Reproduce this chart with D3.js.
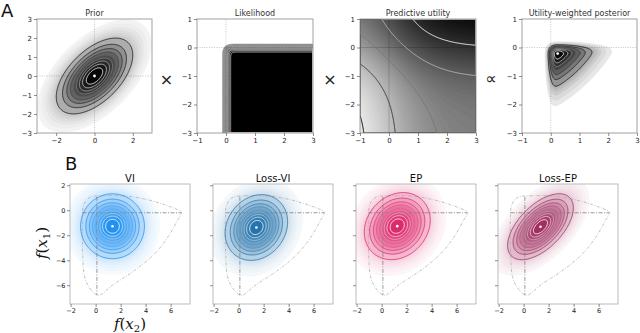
<!DOCTYPE html>
<html><head><meta charset="utf-8">
<script src="https://cdn.jsdelivr.net/npm/d3@7"></script>
<style>body{margin:0;background:#fff} svg{display:block} text{font-family:"DejaVu Sans",sans-serif}</style>
</head><body>
<svg id="c" width="640" height="333"></svg>
<script>
// ================= DATA =================
const topTitles = ["Prior", "Likelihood", "Predictive utility", "Utility-weighted posterior"];
const topXDomains = [[-3, 3], [-1, 3], [-1, 3], [-1, 3]];
const topYDomains = [[-3, 3], [-3, 1], [-3, 1], [-3, 1]];
const topXTicks = [[-2, 0, 2], [-1, 0, 1, 2, 3], [-1, 0, 1, 2, 3], [-1, 0, 1, 2, 3]];
const topYTicks = [[-3, -2, -1, 0, 1, 2, 3], [-3, -2, -1, 0, 1], [-3, -2, -1, 0, 1], [-3, -2, -1, 0, 1]];
const operators = ["\u00D7", "\u00D7", "\u221D"];

const priorMean = [0, 0];
const priorStd = [0.93, 0.93];
const priorRho = 0.55;
const likCenter = [0.02, -0.02];
const likScale = 0.11;
const utilSlope = [1.3, 1.3];
const utilShift = [0.0, -0.2];
const utilLevels = [0.27, 0.595, 0.92, 1.245, 1.57];
const utilWeightPower = 0.3;

const densityLevels = [0.1, 0.2, 0.3, 0.4, 0.5, 0.6, 0.7, 0.8, 0.9];
const haloLevels = [0.006, 0.012, 0.022, 0.035, 0.05, 0.07];
const postLevels = [0.17, 0.29, 0.41, 0.53, 0.65, 0.77, 0.89];
const postHaloLevels = [0.02, 0.04, 0.07, 0.1, 0.13];

const bottomTitles = ["VI", "Loss-VI", "EP", "Loss-EP"];
const approxMeans = [[1.35, -1.28], [1.42, -1.38], [1.25, -1.27], [1.35, -1.32]];
const approxStds = [[1.19, 1.21], [1.165, 1.225], [1.23, 1.25], [1.225, 1.23]];
const approxRhos = [0.0, 0.17, 0.18, 0.57];
const approxColors = ["#1c8ef0", "#1f70aa", "#dc2368", "#9e2a5c"];
const bottomXDomain = [-2.05, 7.55];
const bottomYDomain = [-7.5, 2.1];
const bottomXTicks = [-2, 0, 2, 4, 6];
const bottomYTicks = [2, 0, -2, -4, -6];
const truePostOutline = [[-0.35, 1.08], [0.5, 1.15], [1.5, 1.17], [2.5, 1.13], [3.5, 0.98], [4.5, 0.75],
  [5.5, 0.45], [6.3, 0.15], [6.85, -0.15], [6.5, -0.9], [5.7, -2.27], [4.6, -3.6], [3.0, -4.9],
  [1.4, -5.95], [0.2, -6.8], [-0.56, -6.1], [-0.91, -5.2], [-1.02, -3.87], [-1.07, -2.0],
  [-1.05, -0.5], [-1.0, 0.27], [-0.75, 0.8]];
const truePostCrossH = [[-1.05, -0.2], [6.85, -0.2]];
const truePostCrossV = [[0.1, 1.07], [0.1, -6.8]];

// ================= HELPERS =================
const svg = d3.select("#c");
const defs = svg.append("defs");
const fmt = d => d < 0 ? "\u2212" + (-d) : String(d);

function Phi(z) {
  const x = Math.abs(z) / Math.SQRT2;
  const t = 1 / (1 + 0.3275911 * x);
  const e = 1 - (((((1.061405429 * t - 1.453152027) * t) + 1.421413741) * t - 0.284496736) * t + 0.254829592) * t * Math.exp(-x * x);
  return z >= 0 ? 0.5 * (1 + e) : 0.5 * (1 - e);
}
function gauss(x, y, m, s, r) {
  const dx = (x - m[0]) / s[0], dy = (y - m[1]) / s[1];
  const q = (dx * dx - 2 * r * dx * dy + dy * dy) / (1 - r * r);
  return Math.exp(-q / 2);
}
const logistic = z => 1 / (1 + Math.exp(-z));
const lik = (x, y) => Phi((x - likCenter[0]) / likScale) * Phi(-(y - likCenter[1]) / likScale);
const util = (x, y) => logistic(utilSlope[0] * (x - utilShift[0])) + logistic(utilSlope[1] * (y - utilShift[1]));
const prior = (x, y) => gauss(x, y, priorMean, priorStd, priorRho);

function makeGrid(fn, xd, yd, n, normalize) {
  const values = new Float64Array(n * n);
  let max = -Infinity, min = Infinity, amax = 0;
  for (let j = 0; j < n; j++) for (let i = 0; i < n; i++) {
    const x = xd[0] + (i + 0.5) * (xd[1] - xd[0]) / n;
    const y = yd[1] - (j + 0.5) * (yd[1] - yd[0]) / n;
    const v = fn(x, y);
    values[j * n + i] = v;
    if (v > max) { max = v; amax = j * n + i; }
    if (v < min) min = v;
  }
  if (normalize) for (let k = 0; k < values.length; k++) values[k] /= max;
  const ai = amax % n, aj = Math.floor(amax / n);
  const argmax = [xd[0] + (ai + 0.5) * (xd[1] - xd[0]) / n, yd[1] - (aj + 0.5) * (yd[1] - yd[0]) / n];
  return {values, n, xd, yd, max, min, argmax};
}
function gridPath(grid, xs, ys) {
  const [x0, x1] = grid.xd, [y0, y1] = grid.yd, n = grid.n;
  return d3.geoPath(d3.geoTransform({
    point(px, py) { this.stream.point(xs(x0 + px * (x1 - x0) / n), ys(y1 - py * (y1 - y0) / n)); }
  }));
}
function fills(g, grid, path, thresholds, colorFn) {
  const cs = d3.contours().size([grid.n, grid.n]).thresholds(thresholds)(grid.values);
  g.append("g").selectAll("path").data(cs).join("path")
    .attr("d", path).attr("fill", (d, i) => colorFn(d.value, i)).attr("stroke", "none");
}
function lines(g, grid, path, thresholds, colorFn, w) {
  const cs = d3.contours().size([grid.n, grid.n]).thresholds(thresholds)(grid.values);
  g.append("g").selectAll("path").data(cs).join("path")
    .attr("d", path).attr("fill", "none").attr("stroke", (d, i) => colorFn(d.value, i))
    .attr("stroke-width", w || 0.9).attr("stroke-linejoin", "round");
}
let clipId = 0;
function panel(x, y, w, h, xd, yd) {
  const xs = d3.scaleLinear().domain(xd).range([x, x + w]);
  const ys = d3.scaleLinear().domain(yd).range([y + h, y]);
  const id = "clip" + (clipId++);
  defs.append("clipPath").attr("id", id).append("rect").attr("x", x).attr("y", y).attr("width", w).attr("height", h);
  const g = svg.append("g").attr("clip-path", `url(#${id})`);
  return {xs, ys, g, x, y, w, h};
}
function frameAndAxes(p, xt, yt, opts) {
  svg.append("rect").attr("x", p.x).attr("y", p.y).attr("width", p.w).attr("height", p.h)
    .attr("fill", "none").attr("stroke", opts.frame).attr("stroke-width", 0.8);
  const ax = svg.append("g").attr("transform", `translate(0,${p.y + p.h})`)
    .call(d3.axisBottom(p.xs).tickValues(xt).tickSize(3).tickPadding(opts.pad).tickFormat(fmt));
  const ay = svg.append("g").attr("transform", `translate(${p.x},0)`)
    .call(d3.axisLeft(p.ys).tickValues(yt).tickSize(3).tickPadding(opts.pad).tickFormat(opts.yLabels ? fmt : () => ""));
  [ax, ay].forEach(a => {
    a.select(".domain").remove();
    a.selectAll(".tick line").attr("stroke", "#444").attr("stroke-width", 0.6);
    a.selectAll(".tick text").attr("fill", "#222").style("font-size", opts.fs + "px").style("font-family", "DejaVu Sans");
  });
}
function crosshair(p, color, opacity, dash) {
  const g = p.g.append("g").style("mix-blend-mode", "multiply");
  g.append("line").attr("x1", p.xs(0)).attr("x2", p.xs(0)).attr("y1", p.y).attr("y2", p.y + p.h);
  g.append("line").attr("y1", p.ys(0)).attr("y2", p.ys(0)).attr("x1", p.x).attr("x2", p.x + p.w);
  g.selectAll("line").attr("stroke", color).attr("stroke-opacity", opacity).attr("stroke-width", 0.7).attr("stroke-dasharray", dash);
}
function gaussStyle(g, grid, path, strong, levels, halo) {
  levels = levels || densityLevels; halo = halo || haloLevels;
  const step = levels[1] - levels[0];
  const fc = t => d3.interpolateRgb("#ffffff", strong)(Math.pow(Math.min(1, t), 0.6));
  fills(g, grid, path, halo, v => fc(v));
  fills(g, grid, path, levels, v => fc(v + step / 2));
}
function gaussLines(g, grid, path, lineStrong, levels) {
  levels = levels || densityLevels;
  lines(g, grid, path, levels,
    (v, i) => d3.interpolateRgb(lineStrong, "#ffffff")(Math.pow(i / (levels.length - 1), 1.6)), 0.8);
}

// ================= TOP ROW =================
const topBoxes = [[37, 19, 115, 114], [197, 19, 116, 114], [360, 19, 116, 114], [522, 19, 115, 114]];
const N = 150;
topBoxes.forEach((b, k) => {
  const p = panel(b[0], b[1], b[2], b[3], topXDomains[k], topYDomains[k]);
  if (k === 0) {
    const grid = makeGrid(prior, topXDomains[0], topYDomains[0], N, true);
    const path = gridPath(grid, p.xs, p.ys);
    gaussStyle(p.g, grid, path, "#000000");
    crosshair(p, "#bbbbbb", 1, "1.2,1.2");
    gaussLines(p.g, grid, path, "#111111");
    p.g.append("circle").attr("cx", p.xs(priorMean[0])).attr("cy", p.ys(priorMean[1])).attr("r", 1.4).attr("fill", "#fff");
  } else if (k === 1) {
    const grid = makeGrid(lik, topXDomains[1], topYDomains[1], N, false);
    const path = gridPath(grid, p.xs, p.ys);
    fills(p.g, grid, path, densityLevels, v => d3.interpolateRgb("#8a8a8a", "#000000")((v - 0.1) / 0.8));
    lines(p.g, grid, path, densityLevels, (v, i) => d3.interpolateRgb("#9a9a9a", "#f2f2f2")(i / 8), 0.6);
    crosshair(p, "#bbbbbb", 1, "1.2,1.2");
  } else if (k === 2) {
    const grid = makeGrid(util, topXDomains[2], topYDomains[2], N, false);
    const path = gridPath(grid, p.xs, p.ys);
    const nb = 60, th = d3.range(nb + 1).map(i => grid.min + (grid.max - grid.min) * i / nb);
    fills(p.g, grid, path, th, v => d3.interpolateRgb("#e8e8e8", "#0a0a0a")((v - grid.min) / (grid.max - grid.min)));
    crosshair(p, "#333333", 0.3, "none");
    lines(p.g, grid, path, utilLevels, (v, i) => d3.interpolateRgb("#000000", "#eeeeee")(i / (utilLevels.length - 1)), 1.0);
  } else {
    const post = (x, y) => prior(x, y) * lik(x, y) * Math.pow(util(x, y), utilWeightPower);
    const grid = makeGrid(post, topXDomains[3], topYDomains[3], N, true);
    const path = gridPath(grid, p.xs, p.ys);
    gaussStyle(p.g, grid, path, "#000000", postLevels, postHaloLevels);
    crosshair(p, "#bbbbbb", 1, "1.2,1.2");
    gaussLines(p.g, grid, path, "#111111", postLevels);
    p.g.append("circle").attr("cx", p.xs(grid.argmax[0])).attr("cy", p.ys(grid.argmax[1])).attr("r", 1.4).attr("fill", "#fff");
  }
  frameAndAxes(p, topXTicks[k], topYTicks[k], {frame: "#8a8a8a", pad: 2, fs: 7, yLabels: true});
  svg.append("text").attr("x", b[0] + b[2] / 2).attr("y", 15.5).attr("text-anchor", "middle")
    .style("font-size", "8px").attr("fill", "#333").text(topTitles[k]);
});
const opPos = [[166.5, 79], [330, 79], [491, 78]];
operators.forEach((o, i) => {
  svg.append("text").attr("x", opPos[i][0]).attr("y", opPos[i][1]).attr("text-anchor", "middle")
    .attr("dominant-baseline", "central").style("font-family", "'DejaVu Sans'").style("font-size", "16px")
    .attr("fill", "#222").text(o);
});
svg.append("text").attr("x", 1).attr("y", 17).style("font-size", "18px").attr("fill", "#111").text("A");
svg.append("text").attr("x", 65).attr("y", 170).style("font-size", "18px").attr("fill", "#111").text("B");

// ================= BOTTOM ROW =================
const botBoxes = [[70, 184, 120, 120], [213, 184, 120, 120], [356, 184, 120, 120], [498, 184, 120, 120]];
botBoxes.forEach((b, k) => {
  const p = panel(b[0], b[1], b[2], b[3], bottomXDomain, bottomYDomain);
  const fn = (x, y) => gauss(x, y, approxMeans[k], approxStds[k], approxRhos[k]);
  const grid = makeGrid(fn, bottomXDomain, bottomYDomain, N, true);
  const path = gridPath(grid, p.xs, p.ys);
  gaussStyle(p.g, grid, path, approxColors[k]);
  const ln = d3.line().x(d => p.xs(d[0])).y(d => p.ys(d[1]));
  p.g.append("path").attr("d", ln.curve(d3.curveCatmullRomClosed.alpha(0.5))(truePostOutline))
    .attr("fill", "none").attr("stroke", "#a8a8a8").attr("stroke-width", 0.7).attr("stroke-dasharray", "3,1.5,0.8,1.5");
  const ls = d3.line().x(d => p.xs(d[0])).y(d => p.ys(d[1]));
  [truePostCrossH, truePostCrossV].forEach(seg => {
    p.g.append("path").attr("d", ls(seg)).attr("fill", "none").attr("stroke", "#808080")
      .attr("stroke-width", 0.8).attr("stroke-dasharray", "4,1.5,1,1.5");
  });
  gaussLines(p.g, grid, path, approxColors[k]);
  p.g.append("circle").attr("cx", p.xs(approxMeans[k][0])).attr("cy", p.ys(approxMeans[k][1])).attr("r", 1.3).attr("fill", "#fff");
  frameAndAxes(p, bottomXTicks, bottomYTicks, {frame: "#aaaaaa", pad: 1.5, fs: 6.5, yLabels: k === 0});
  svg.append("text").attr("x", b[0] + b[2] / 2).attr("y", 181.5).attr("text-anchor", "middle")
    .style("font-size", "10px").attr("fill", "#111").text(bottomTitles[k]);
});
// axis labels (math style)
function mathLabel(x, y, sub, rotate) {
  const t = svg.append("text").attr("transform", `translate(${x},${y})` + (rotate ? " rotate(-90)" : ""))
    .attr("text-anchor", "middle").style("font-family", "'DejaVu Serif', serif").style("font-size", "15px").attr("fill", "#111");
  t.append("tspan").style("font-style", "italic").text("f");
  t.append("tspan").text("(");
  t.append("tspan").style("font-style", "italic").text("x");
  t.append("tspan").attr("dy", 3).style("font-size", "10px").text(sub);
  t.append("tspan").attr("dy", -3).text(")");
}
mathLabel(47, 243, "1", true);
mathLabel(130, 329, "2", false);
</script>
</body></html>
